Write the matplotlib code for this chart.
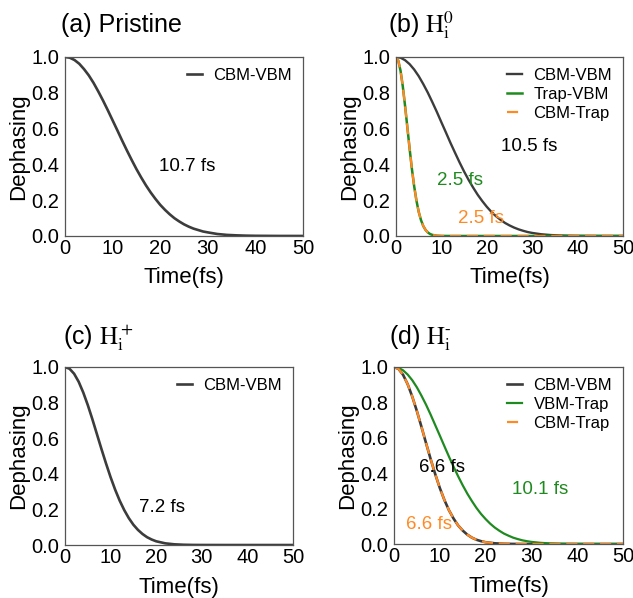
import matplotlib
matplotlib.use('Agg')
import matplotlib.pyplot as plt

plt.rcParams['font.family'] = ['Liberation Sans', 'DejaVu Sans']
plt.rcParams['mathtext.fontset'] = 'stix'

# time grids (fs) the curves were read on
t_slow = [0, 1, 2, 3, 4, 5, 6, 7, 8, 9, 10, 11, 12, 13, 14, 15, 16, 17,
          18, 19, 20, 21, 22, 23, 24, 25, 26, 27, 28, 29, 30,
          32, 34, 36, 38, 40, 45, 50]
t_mid = [0, 1, 2, 3, 4, 5, 6, 7, 8, 9, 10, 11, 12, 13, 14, 15, 16, 17,
         18, 19, 20, 22, 24, 26, 28, 30, 35, 50]
t_fast = [0, 0.5, 1, 1.5, 2, 2.5, 3, 3.5, 4, 4.5, 5, 5.5, 6, 6.5, 7,
          7.5, 8, 9, 10, 12, 50]

# (a) pristine
a_cbm_vbm = [1.0, 0.996, 0.983, 0.962, 0.932, 0.897, 0.855, 0.807, 0.756,
             0.702, 0.646, 0.590, 0.533, 0.478, 0.425, 0.374, 0.327, 0.283,
             0.243, 0.207, 0.174, 0.146, 0.121, 0.099, 0.081, 0.065, 0.052,
             0.041, 0.033, 0.025, 0.020,
             0.011, 0.006, 0.0035, 0.0018, 0.0009, 0.0001, 0.0]

# (b) Hi0
b_cbm_vbm = [1.0, 0.996, 0.982, 0.960, 0.930, 0.893, 0.849, 0.801, 0.748,
             0.693, 0.635, 0.578, 0.520, 0.465, 0.411, 0.360, 0.313, 0.270,
             0.230, 0.195, 0.163, 0.135, 0.111, 0.091, 0.073, 0.059, 0.047,
             0.037, 0.029, 0.022, 0.017,
             0.0096, 0.0053, 0.0028, 0.0014, 0.0007, 0.0001, 0.0]
b_trap_vbm = [1.0, 0.980, 0.923, 0.835, 0.726, 0.607, 0.487, 0.375, 0.278,
              0.198, 0.135, 0.089, 0.056, 0.034, 0.020, 0.011, 0.006, 0.0015,
              0.0003, 0.0, 0.0]
b_cbm_trap = [1.0, 0.980, 0.923, 0.835, 0.726, 0.607, 0.487, 0.375, 0.278,
              0.198, 0.135, 0.089, 0.056, 0.034, 0.020, 0.011, 0.006, 0.0015,
              0.0003, 0.0, 0.0]

# (c) Hi+
c_cbm_vbm = [1.0, 0.990, 0.962, 0.917, 0.857, 0.786, 0.707, 0.623, 0.539,
             0.458, 0.381, 0.311, 0.249, 0.196, 0.151, 0.114, 0.085, 0.062,
             0.044, 0.031, 0.021, 0.0094, 0.0039, 0.0015, 0.0005, 0.0002,
             0.0, 0.0]

# (d) Hi-
d_cbm_vbm = [1.0, 0.989, 0.955, 0.902, 0.832, 0.751, 0.662, 0.570, 0.480,
             0.395, 0.317, 0.249, 0.191, 0.144, 0.105, 0.076, 0.053, 0.036,
             0.024, 0.016, 0.010, 0.0039, 0.0013, 0.0004, 0.0001, 0.0,
             0.0, 0.0]
d_vbm_trap = [1.0, 0.995, 0.981, 0.957, 0.925, 0.885, 0.838, 0.787, 0.731,
              0.672, 0.613, 0.553, 0.494, 0.437, 0.383, 0.332, 0.285, 0.243,
              0.204, 0.170, 0.141, 0.115, 0.093, 0.075, 0.059, 0.047, 0.036,
              0.028, 0.021, 0.016, 0.012,
              0.0066, 0.0035, 0.0017, 0.0008, 0.0004, 0.0, 0.0]
d_cbm_trap = [1.0, 0.989, 0.955, 0.902, 0.832, 0.751, 0.662, 0.570, 0.480,
              0.395, 0.317, 0.249, 0.191, 0.144, 0.105, 0.076, 0.053, 0.036,
              0.024, 0.016, 0.010, 0.0039, 0.0013, 0.0004, 0.0001, 0.0,
              0.0, 0.0]

GRAY = '#3c3c3c'
GREEN = '#1f8a1f'
ORANGE = '#ff8a24'
DASH = (0, (5, 2.6))


def style_axes(ax):
    ax.set_xlim(0, 50)
    ax.set_ylim(0, 1.0)
    ax.set_xticks([0, 10, 20, 30, 40, 50])
    ax.set_yticks([0.0, 0.2, 0.4, 0.6, 0.8, 1.0])
    ax.set_yticklabels(['0.0', '0.2', '0.4', '0.6', '0.8', '1.0'])
    ax.tick_params(length=0, labelsize=14.5, pad=2)
    ax.tick_params(axis='y', pad=4)
    for s in ax.spines.values():
        s.set_color('#555555')
        s.set_linewidth(0.9)
    ax.set_xlabel('Time(fs)', fontsize=16, labelpad=7)
    ax.set_ylabel('Dephasing', fontsize=16, labelpad=2)


def add_legend(ax):
    ax.legend(loc='upper right', frameon=False, fontsize=12,
              handlelength=0.9, handletextpad=0.7, labelspacing=0.25,
              borderaxespad=0.25)


fig = plt.figure(figsize=(6.33, 5.98), dpi=100)
ax_a = fig.add_axes([0.1027, 0.6054, 0.376, 0.2993])
ax_b = fig.add_axes([0.6256, 0.6054, 0.3586, 0.2993])
ax_c = fig.add_axes([0.1027, 0.0886, 0.360, 0.2977])
ax_d = fig.add_axes([0.6224, 0.0903, 0.3618, 0.296])

# (a)
ax_a.plot(t_slow, a_cbm_vbm, color=GRAY, lw=1.9, label='CBM-VBM')
ax_a.text(19.7, 0.39, '10.7 fs', fontsize=13.5, va='center')
style_axes(ax_a)
add_legend(ax_a)
ax_a.text(-0.015, 1.14, '(a) Pristine', transform=ax_a.transAxes, fontsize=18)

# (b)
ax_b.plot(t_slow, b_cbm_vbm, color=GRAY, lw=1.7, label='CBM-VBM')
ax_b.plot(t_fast, b_trap_vbm, color=GREEN, lw=1.8, label='Trap-VBM')
ax_b.plot(t_fast, b_cbm_trap, color=ORANGE, lw=1.6, ls=DASH, label='CBM-Trap')
ax_b.text(23.1, 0.50, '10.5 fs', fontsize=13.5, va='center')
ax_b.text(9.0, 0.31, '2.5 fs', fontsize=13.5, va='center', color=GREEN)
ax_b.text(13.7, 0.10, '2.5 fs', fontsize=13.5, va='center', color=ORANGE)
style_axes(ax_b)
add_legend(ax_b)
ax_b.text(-0.035, 1.14, r'(b) $\mathrm{H}_\mathrm{i}^0$', transform=ax_b.transAxes,
          fontsize=18)

# (c)
ax_c.plot(t_mid, c_cbm_vbm, color=GRAY, lw=1.9, label='CBM-VBM')
ax_c.text(16.2, 0.21, '7.2 fs', fontsize=13.5, va='center')
style_axes(ax_c)
add_legend(ax_c)
ax_c.text(-0.01, 1.125, r'(c) $\mathrm{H}_\mathrm{i}^+$', transform=ax_c.transAxes,
          fontsize=18)

# (d)
ax_d.plot(t_mid, d_cbm_vbm, color=GRAY, lw=1.9, label='CBM-VBM')
ax_d.plot(t_slow, d_vbm_trap, color=GREEN, lw=1.6, label='VBM-Trap')
ax_d.plot(t_mid, d_cbm_trap, color=ORANGE, lw=1.6, ls=DASH, label='CBM-Trap')
ax_d.text(5.5, 0.435, '6.6 fs', fontsize=13.5, va='center')
ax_d.text(25.8, 0.31, '10.1 fs', fontsize=13.5, va='center', color=GREEN)
ax_d.text(2.6, 0.11, '6.6 fs', fontsize=13.5, va='center', color=ORANGE)
style_axes(ax_d)
add_legend(ax_d)
ax_d.text(-0.02, 1.125, r'(d) $\mathrm{H}_\mathrm{i}^{\text{-}}$', transform=ax_d.transAxes,
          fontsize=18)

fig.savefig('out.png', dpi=100)
